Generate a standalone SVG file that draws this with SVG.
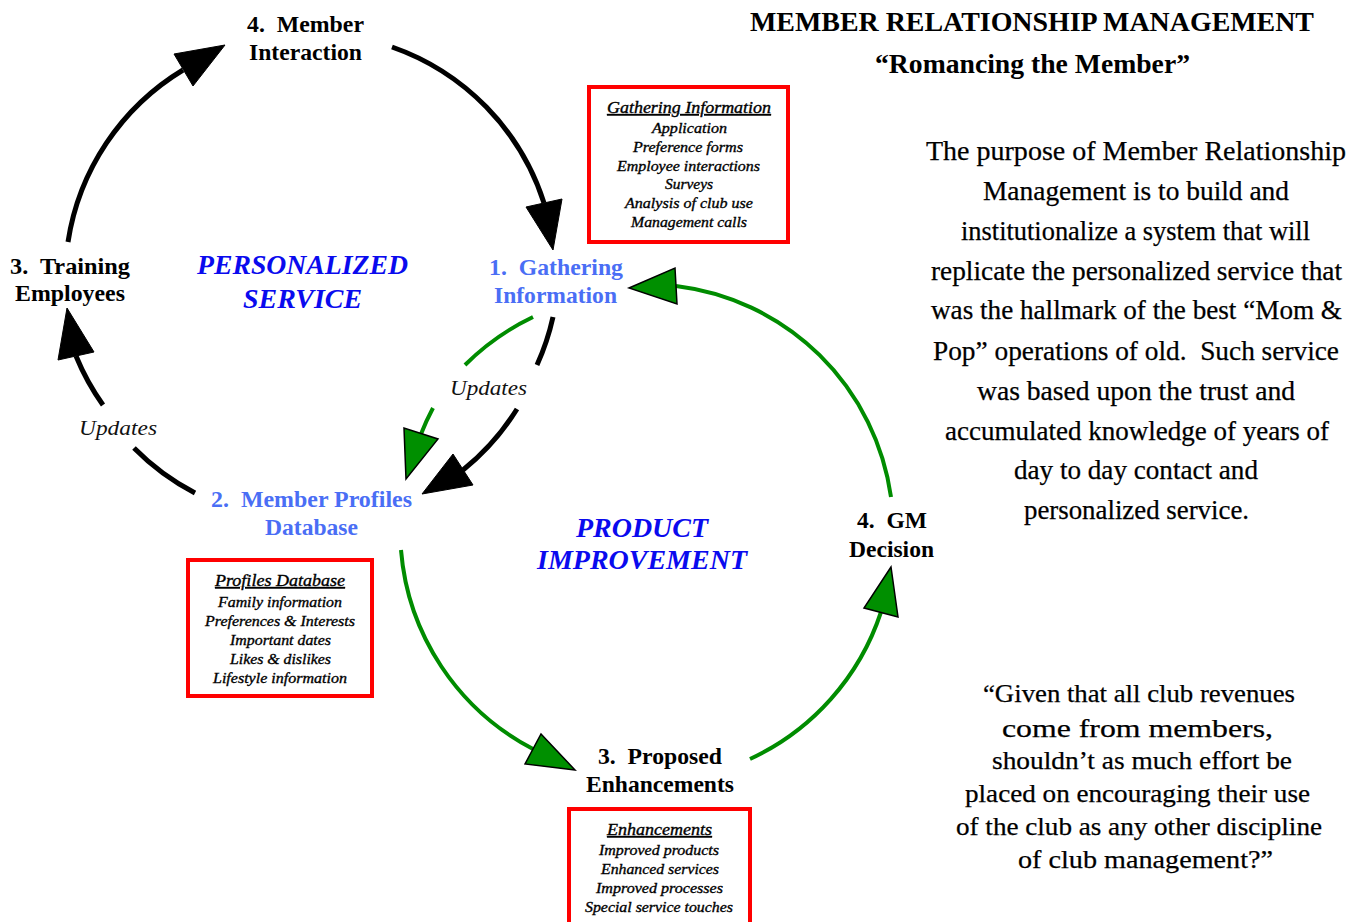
<svg xmlns="http://www.w3.org/2000/svg" width="1359" height="922" viewBox="0 0 1359 922" xml:space="preserve">
<style>
text{font-family:"Liberation Serif","Times New Roman",serif;white-space:pre;}
.node{font-weight:bold;font-size:23px;fill:#000;}
.blue{fill:#4a6ef5;}
.theme{font-weight:bold;font-style:italic;font-size:28px;fill:#0a0aee;}
.upd{font-style:italic;font-size:22px;fill:#111;}
.bx{fill:none;stroke:#ff0000;stroke-width:4;}
.bt{font-style:italic;font-size:15px;fill:#000;stroke:#000;stroke-width:0.35;}
.bh{font-style:italic;font-size:16px;fill:#000;stroke:#000;stroke-width:0.35;text-decoration:underline;}
.body{font-size:27px;fill:#000;stroke:#000;stroke-width:0.25;}
.quote{font-size:25px;fill:#000;stroke:#000;stroke-width:0.25;}
.title{font-weight:bold;font-size:27px;fill:#000;}
.blk{fill:none;stroke:#000;stroke-width:5;}
.grn{fill:none;stroke:#008c00;stroke-width:4;}
.ahb{fill:#000;stroke:#000;stroke-width:1;stroke-linejoin:miter;}
.ahg{fill:#008f00;stroke:#000;stroke-width:1.5;stroke-linejoin:miter;}
</style>
<rect x="0" y="0" width="1359" height="922" fill="#ffffff"/>

<g id="connectors">
  <path class="blk" d="M68,242 A244,244 0 0 1 183,70"/>
  <path class="blk" d="M392,47 A244,244 0 0 1 544,203"/>
  <path class="blk" d="M553,317 A244,244 0 0 1 537,365"/>
  <path class="blk" d="M517,409 A244,244 0 0 1 463,470"/>
  <path class="blk" d="M195,493 A244,244 0 0 1 134,448"/>
  <path class="blk" d="M103,405 A244,244 0 0 1 76,356"/>
  <path class="grn" d="M891,497 A247,247 0 0 0 676,286"/>
  <path class="grn" d="M750,759 A247,247 0 0 0 881,612"/>
  <path class="grn" d="M401,550 A247,247 0 0 0 533,749"/>
  <path class="grn" d="M533,317 A247,247 0 0 0 465,365"/>
  <path class="grn" d="M433,408 A247,247 0 0 0 421,434"/>
  <polygon class="ahb" points="225,45 174,54 193,86"/>
  <polygon class="ahb" points="553,250 526,207 562,199"/>
  <polygon class="ahb" points="422,494 453,454 473,485"/>
  <polygon class="ahb" points="67,308 58,360 94,352"/>
  <polygon class="ahg" points="629,288 675,268 677,304"/>
  <polygon class="ahg" points="891,567 864,608 898,617"/>
  <polygon class="ahg" points="575,770 541,734 525,764"/>
  <polygon class="ahg" points="406,479 404,428 438,439"/>
  <text class="upd" x="79" y="435" textLength="78" lengthAdjust="spacingAndGlyphs">Updates</text>
  <text class="upd" x="450" y="395" textLength="77" lengthAdjust="spacingAndGlyphs">Updates</text>
</g>

<g id="node-member-interaction">
  <text class="node" x="247" y="32" textLength="117" lengthAdjust="spacingAndGlyphs">4.  Member</text>
  <text class="node" x="249" y="60" textLength="113" lengthAdjust="spacingAndGlyphs">Interaction</text>
</g>
<g id="node-training">
  <text class="node" x="10" y="274" textLength="120" lengthAdjust="spacingAndGlyphs">3.  Training</text>
  <text class="node" x="15" y="301" textLength="110" lengthAdjust="spacingAndGlyphs">Employees</text>
</g>
<g id="node-gathering">
  <text class="node blue" x="489" y="275" textLength="134" lengthAdjust="spacingAndGlyphs">1.  Gathering</text>
  <text class="node blue" x="494" y="303" textLength="123" lengthAdjust="spacingAndGlyphs">Information</text>
</g>
<g id="node-profiles">
  <text class="node blue" x="211" y="507" textLength="201" lengthAdjust="spacingAndGlyphs">2.  Member Profiles</text>
  <text class="node blue" x="265" y="535" textLength="93" lengthAdjust="spacingAndGlyphs">Database</text>
</g>
<g id="node-gm">
  <text class="node" x="857" y="528" textLength="70" lengthAdjust="spacingAndGlyphs">4.  GM</text>
  <text class="node" x="849" y="557" textLength="85" lengthAdjust="spacingAndGlyphs">Decision</text>
</g>
<g id="node-proposed">
  <text class="node" x="598" y="764" textLength="124" lengthAdjust="spacingAndGlyphs">3.  Proposed</text>
  <text class="node" x="586" y="792" textLength="148" lengthAdjust="spacingAndGlyphs">Enhancements</text>
</g>

<g id="theme-personalized">
  <text class="theme" x="197" y="274" textLength="211" lengthAdjust="spacingAndGlyphs">PERSONALIZED</text>
  <text class="theme" x="243" y="308" textLength="119" lengthAdjust="spacingAndGlyphs">SERVICE</text>
</g>
<g id="theme-product">
  <text class="theme" x="576" y="537" textLength="132" lengthAdjust="spacingAndGlyphs">PRODUCT</text>
  <text class="theme" x="537" y="569" textLength="210" lengthAdjust="spacingAndGlyphs">IMPROVEMENT</text>
</g>

<g id="box-gathering">
  <rect class="bx" x="589" y="87" width="199" height="155"/>
  <text class="bh" x="607" y="113" textLength="164" lengthAdjust="spacingAndGlyphs">Gathering Information</text>
  <text class="bt" x="652" y="133" textLength="75" lengthAdjust="spacingAndGlyphs">Application</text>
  <text class="bt" x="633" y="152" textLength="110" lengthAdjust="spacingAndGlyphs">Preference forms</text>
  <text class="bt" x="617" y="171" textLength="143" lengthAdjust="spacingAndGlyphs">Employee interactions</text>
  <text class="bt" x="665" y="189" textLength="48" lengthAdjust="spacingAndGlyphs">Surveys</text>
  <text class="bt" x="625" y="208" textLength="128" lengthAdjust="spacingAndGlyphs">Analysis of club use</text>
  <text class="bt" x="631" y="227" textLength="116" lengthAdjust="spacingAndGlyphs">Management calls</text>
</g>
<g id="box-profiles">
  <rect class="bx" x="188" y="560" width="184" height="136"/>
  <text class="bh" x="215" y="586" textLength="130" lengthAdjust="spacingAndGlyphs">Profiles Database</text>
  <text class="bt" x="218" y="607" textLength="124" lengthAdjust="spacingAndGlyphs">Family information</text>
  <text class="bt" x="205" y="626" textLength="150" lengthAdjust="spacingAndGlyphs">Preferences &amp; Interests</text>
  <text class="bt" x="230" y="645" textLength="101" lengthAdjust="spacingAndGlyphs">Important dates</text>
  <text class="bt" x="230" y="664" textLength="101" lengthAdjust="spacingAndGlyphs">Likes &amp; dislikes</text>
  <text class="bt" x="213" y="683" textLength="134" lengthAdjust="spacingAndGlyphs">Lifestyle information</text>
</g>
<g id="box-enhancements">
  <rect class="bx" x="569" y="809" width="181" height="130"/>
  <text class="bh" x="607" y="835" textLength="105" lengthAdjust="spacingAndGlyphs">Enhancements</text>
  <text class="bt" x="599" y="855" textLength="120" lengthAdjust="spacingAndGlyphs">Improved products</text>
  <text class="bt" x="601" y="874" textLength="118" lengthAdjust="spacingAndGlyphs">Enhanced services</text>
  <text class="bt" x="596" y="893" textLength="127" lengthAdjust="spacingAndGlyphs">Improved processes</text>
  <text class="bt" x="585" y="912" textLength="148" lengthAdjust="spacingAndGlyphs">Special service touches</text>
</g>

<g id="title">
  <text class="title" x="750" y="31" textLength="564" lengthAdjust="spacingAndGlyphs">MEMBER RELATIONSHIP MANAGEMENT</text>
  <text class="title" x="875" y="73" textLength="315" lengthAdjust="spacingAndGlyphs">“Romancing the Member”</text>
</g>

<g id="purpose-text">
  <text class="body" x="926" y="160" textLength="420" lengthAdjust="spacingAndGlyphs">The purpose of Member Relationship</text>
  <text class="body" x="983" y="200" textLength="306" lengthAdjust="spacingAndGlyphs">Management is to build and</text>
  <text class="body" x="961" y="240" textLength="349" lengthAdjust="spacingAndGlyphs">institutionalize a system that will</text>
  <text class="body" x="931" y="280" textLength="411" lengthAdjust="spacingAndGlyphs">replicate the personalized service that</text>
  <text class="body" x="931" y="319" textLength="411" lengthAdjust="spacingAndGlyphs">was the hallmark of the best “Mom &amp;</text>
  <text class="body" x="933" y="360" textLength="406" lengthAdjust="spacingAndGlyphs">Pop” operations of old.  Such service</text>
  <text class="body" x="977" y="400" textLength="318" lengthAdjust="spacingAndGlyphs">was based upon the trust and</text>
  <text class="body" x="945" y="440" textLength="384" lengthAdjust="spacingAndGlyphs">accumulated knowledge of years of</text>
  <text class="body" x="1014" y="479" textLength="244" lengthAdjust="spacingAndGlyphs">day to day contact and</text>
  <text class="body" x="1024" y="519" textLength="225" lengthAdjust="spacingAndGlyphs">personalized service.</text>
</g>

<g id="quote-text">
  <text class="quote" x="983" y="702" textLength="312" lengthAdjust="spacingAndGlyphs">“Given that all club revenues</text>
  <text class="quote" x="1002" y="737" textLength="271" lengthAdjust="spacingAndGlyphs">come from members,</text>
  <text class="quote" x="992" y="769" textLength="300" lengthAdjust="spacingAndGlyphs">shouldn’t as much effort be</text>
  <text class="quote" x="965" y="802" textLength="345" lengthAdjust="spacingAndGlyphs">placed on encouraging their use</text>
  <text class="quote" x="956" y="835" textLength="366" lengthAdjust="spacingAndGlyphs">of the club as any other discipline</text>
  <text class="quote" x="1018" y="868" textLength="255" lengthAdjust="spacingAndGlyphs">of club management?”</text>
</g>
</svg>
